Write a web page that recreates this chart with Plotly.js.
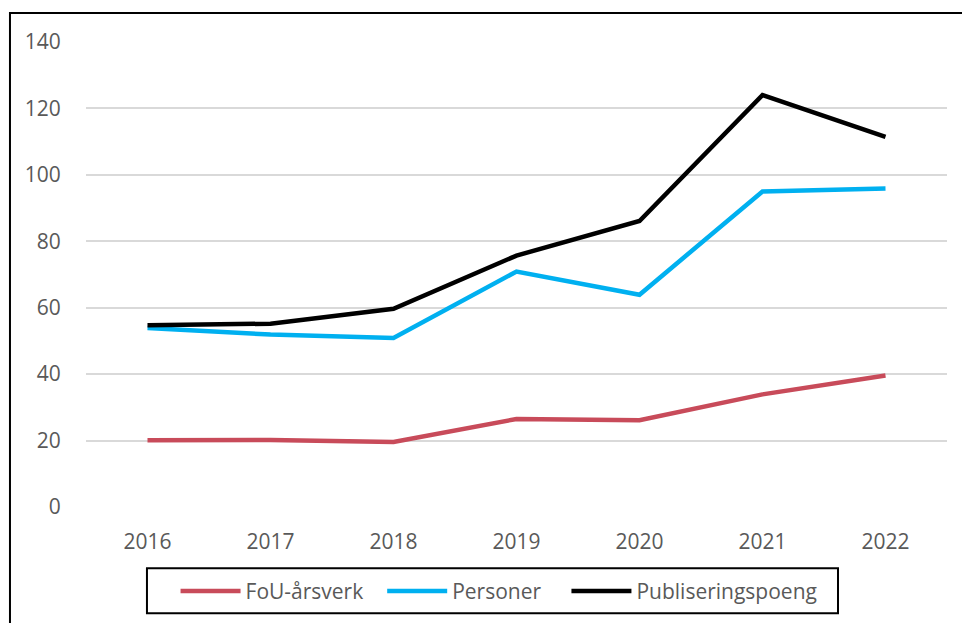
<!DOCTYPE html>
<html>
<head>
<meta charset="utf-8">
<script src="https://cdn.plot.ly/plotly-3.0.1.min.js"></script>
<style>html,body{margin:0;padding:0;background:#fff;}#chart{width:962px;height:623px;}</style>
</head>
<body>
<div id="chart"></div>
<script>
const years = ["2016", "2017", "2018", "2019", "2020", "2021", "2022"];
const fouArsverk = [20.1, 20.2, 19.6, 26.5, 26.1, 33.9, 39.6];
const personer = [53.9, 51.9, 50.9, 70.9, 63.9, 95.0, 95.9];
const publiseringspoeng = [54.7, 55.2, 59.7, 75.7, 86.1, 124.0, 111.4];
const seriesNames = ["FoU-årsverk", "Personer", "Publiseringspoeng"];
const yTicks = [0, 20, 40, 60, 80, 100, 120, 140];

const colors = ["#C84B5A", "#00B0F0", "#000000"];
const values = [fouArsverk, personer, publiseringspoeng];
const legendIds = ["legend", "legend2", "legend3"];
const font = "'Open Sans', 'Liberation Sans', sans-serif";

const traces = values.map((v, i) => ({
  type: "scatter", mode: "lines", x: years, y: v, name: seriesNames[i],
  legend: legendIds[i],
  line: {color: colors[i], width: 4.5}
}));

function leg(x) {
  return {
    orientation: "h", x: x, xanchor: "left", y: -0.179, yanchor: "middle",
    bgcolor: "rgba(0,0,0,0)", borderwidth: 0,
    font: {family: font, size: 21, color: "#595959"},
    itemwidth: 60
  };
}

const layout = {
  width: 962, height: 623,
  margin: {l: 86, r: 15, t: 42, b: 114.5},
  paper_bgcolor: "#fff", plot_bgcolor: "#fff",
  font: {family: font, size: 21, color: "#595959"},
  showlegend: true,
  legend: leg(0.104),
  legend2: leg(0.344),
  legend3: leg(0.558),
  xaxis: {
    type: "category", range: [-0.5, 6.5], showgrid: false, zeroline: false, showline: false,
    ticks: "outside", ticklen: 16, tickcolor: "rgba(0,0,0,0)",
    tickfont: {family: font, size: 21, color: "#595959"}
  },
  yaxis: {
    range: [0, 140], tickvals: yTicks, ticktext: yTicks.map(String),
    showgrid: true, gridcolor: "#d9d9d9", gridwidth: 2,
    zeroline: false, showline: false,
    ticks: "outside", ticklen: 20, tickcolor: "rgba(0,0,0,0)",
    tickfont: {family: font, size: 21, color: "#595959"}
  },
  shapes: [
    {type: "rect", xref: "paper", yref: "paper",
     x0: -0.0883, x1: 1.2, y0: -0.4, y1: 1.0622,
     line: {color: "#000", width: 2}, fillcolor: "rgba(0,0,0,0)", layer: "below"},
    {type: "rect", xref: "paper", yref: "paper",
     x0: 0.0708, x1: 0.8734, y0: -0.2283, y1: -0.1318,
     line: {color: "#000", width: 2}, fillcolor: "rgba(0,0,0,0)", layer: "below"}
  ]
};

Plotly.newPlot("chart", traces, layout, {staticPlot: true, displayModeBar: false});
</script>
</body>
</html>
